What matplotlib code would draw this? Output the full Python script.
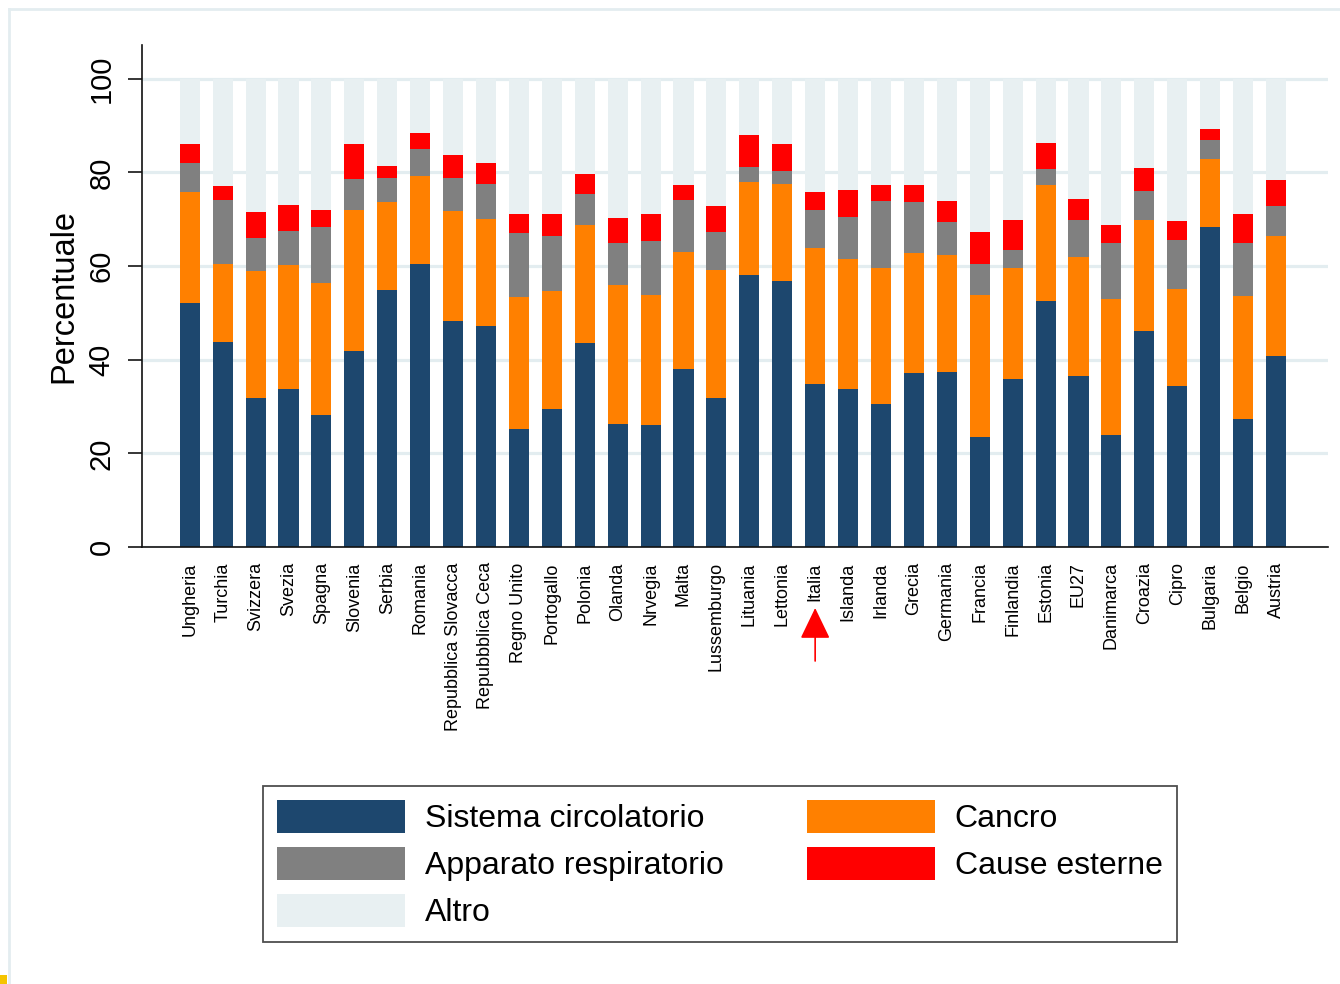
import matplotlib
matplotlib.use("Agg")
import matplotlib.pyplot as plt
import numpy as np
from matplotlib.patches import Patch, Rectangle
from matplotlib.lines import Line2D

plt.rcParams['font.family'] = ['Liberation Sans', 'DejaVu Sans']

countries = ["Ungheria", "Turchia", "Svizzera", "Svezia", "Spagna", "Slovenia", "Serbia",
             "Romania", "Repubblica Slovacca", "Repubbblica Ceca", "Regno Unito", "Portogallo",
             "Polonia", "Olanda", "Nrvegia", "Malta", "Lussemburgo", "Lituania", "Lettonia",
             "Italia", "Islanda", "Irlanda", "Grecia", "Germania", "Francia", "Finlandia",
             "Estonia", "EU27", "Danimarca", "Croazia", "Cipro", "Bulgaria", "Belgio", "Austria"]

circolatorio = [52.0, 43.8, 31.8, 33.8, 28.2, 41.8, 54.8, 60.5, 48.3, 47.2, 25.1, 29.4,
                43.5, 26.3, 26.1, 38.1, 31.9, 58.0, 56.8, 34.9, 33.7, 30.5, 37.1, 37.3,
                23.5, 35.9, 52.6, 36.6, 23.9, 46.1, 34.4, 68.4, 27.3, 40.8]
cancro = [23.8, 16.7, 27.1, 26.4, 28.2, 30.1, 18.8, 18.8, 23.5, 22.9, 28.3, 25.3,
          25.2, 29.7, 27.7, 24.9, 27.2, 19.9, 20.7, 29.0, 27.7, 29.1, 25.6, 25.0,
          30.3, 23.7, 24.7, 25.3, 29.0, 23.8, 20.6, 14.4, 26.3, 25.6]
respiratorio = [6.1, 13.5, 7.1, 7.3, 11.9, 6.6, 5.2, 5.7, 7.1, 7.4, 13.6, 11.8,
                6.7, 8.9, 11.6, 11.1, 8.1, 3.3, 2.8, 8.0, 9.1, 14.3, 10.9, 7.2,
                6.7, 3.8, 3.5, 7.9, 12.1, 6.1, 10.5, 4.2, 11.4, 6.5]
esterne = [4.1, 3.1, 5.6, 5.5, 3.7, 7.5, 2.6, 3.5, 4.9, 4.6, 4.2, 4.7,
           4.3, 5.4, 5.8, 3.3, 5.7, 6.8, 5.8, 3.9, 5.7, 3.3, 3.6, 4.4,
           6.8, 6.5, 5.4, 4.6, 3.7, 4.9, 4.1, 2.3, 6.2, 5.4]
yticks = [0, 20, 40, 60, 80, 100]

series_labels = ["Sistema circolatorio", "Cancro", "Apparato respiratorio", "Cause esterne", "Altro"]
colors = ["#1d476e", "#ff8000", "#808080", "#ff0000", "#e8f0f2"]
highlight = "Italia"

c1 = np.array(circolatorio)
c2 = np.array(cancro)
c3 = np.array(respiratorio)
c4 = np.array(esterne)
altro = 100 - (c1 + c2 + c3 + c4)
stack = [c1, c2, c3, c4, altro]

W, H = 1340, 984
fig = plt.figure(figsize=(W / 100, H / 100), dpi=100)
ax = fig.add_axes([142 / W, 1 - 547 / H, (1328 - 142) / W, (547 - 45) / H])

x = np.arange(len(countries))
bottom = np.zeros(len(countries))
handles = {}
for vals, col, lab in zip(stack, colors, series_labels):
    ax.bar(x, vals, bottom=bottom, width=0.61, color=col, label=lab, zorder=2, linewidth=0)
    handles[lab] = Patch(facecolor=col, edgecolor='none', label=lab)
    bottom = bottom + vals

ax.set_xlim(-1.45, 34.58)
ax.set_ylim(0, 107.2)
ax.set_yticks(yticks)
ax.set_yticklabels([str(v) for v in yticks], fontsize=21, rotation=90, va='center')
ax.yaxis.grid(True, color="#e3edf0", linewidth=2.3, zorder=0)
ax.set_axisbelow(True)
ax.set_xticks(x)
ax.set_xticklabels(countries, rotation=90, fontsize=13, va='top', ha='center')
ax.tick_params(axis='x', length=0, pad=11)
ax.tick_params(axis='y', length=10, width=1.1, pad=9, direction='out')
ax.set_ylabel("Percentuale", fontsize=23.5, labelpad=6)
for s in ["top", "right"]:
    ax.spines[s].set_visible(False)
for s in ["left", "bottom"]:
    ax.spines[s].set_linewidth(1.2)
    ax.spines[s].set_color("#111111")

# arrow under Italia
ix = countries.index(highlight)
ax.annotate("", xy=(ix, -(608 - 547) / (547 - 45)), xycoords=('data', 'axes fraction'),
            xytext=(ix, -(661 - 547) / (547 - 45)), textcoords=('data', 'axes fraction'),
            arrowprops=dict(arrowstyle="-|>,head_length=1.95,head_width=0.94", color="#ff0000",
                            lw=1.2, shrinkA=0, shrinkB=0), annotation_clip=False)

order = ["Sistema circolatorio", "Apparato respiratorio", "Altro", "Cancro", "Cause esterne"]
leg = fig.legend([handles[k] for k in order], order, loc='upper left',
                 bbox_to_anchor=(263 / W, 1 - 786 / H), ncol=2, fontsize=23,
                 frameon=True, fancybox=False, edgecolor="#222222",
                 handlelength=4.0, handleheight=1.2, handletextpad=0.63,
                 labelspacing=0.40, columnspacing=2.6, borderpad=0.44, borderaxespad=0)
leg.get_frame().set_linewidth(1.3)

# faint page frame
fig.add_artist(Line2D([9 / W, 9 / W], [0, 1 - 9 / H], transform=fig.transFigure, color="#e3edf0", lw=2))
fig.add_artist(Line2D([9 / W, 1], [1 - 9 / H, 1 - 9 / H], transform=fig.transFigure, color="#e3edf0", lw=2))
fig.add_artist(Rectangle((0, 0), 7 / W, 9 / H, transform=fig.transFigure, color="#f5c400", lw=0))

fig.savefig("out.png", dpi=100)
